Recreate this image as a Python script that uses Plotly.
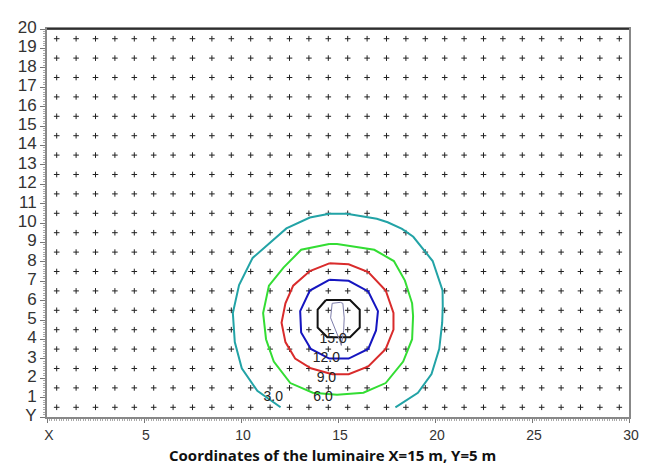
import numpy as np
import plotly.graph_objects as go

# calculation grid (points of the luminance grid)
grid_x = [0.5, 1.5, 2.5, 3.5, 4.5, 5.5, 6.5, 7.5, 8.5, 9.5, 10.5, 11.5, 12.5, 13.5, 14.5,
          15.5, 16.5, 17.5, 18.5, 19.5, 20.5, 21.5, 22.5, 23.5, 24.5, 25.5, 26.5, 27.5, 28.5, 29.5]
grid_y = [0.5, 1.5, 2.5, 3.5, 4.5, 5.5, 6.5, 7.5, 8.5, 9.5, 10.5, 11.5, 12.5, 13.5, 14.5,
          15.5, 16.5, 17.5, 18.5, 19.5]

# isolines (x, y in metres)
iso3_x = [12.04, 10.84, 10.04, 9.68, 9.58, 9.90, 10.60, 11.19, 12.34, 13.55, 14.55, 15.45,
          16.06, 17.00, 17.56, 18.30, 18.88, 19.88, 20.39, 20.40, 20.37, 20.22, 19.82, 19.12, 17.96]
iso3_y = [0.50, 1.35, 2.51, 3.86, 5.36, 6.80, 8.20, 8.72, 9.72, 10.28, 10.48, 10.48,
          10.38, 10.22, 10.04, 9.70, 9.29, 8.04, 6.53, 5.70, 4.86, 3.51, 2.21, 1.25, 0.50]

iso6_x = [14.55, 13.10, 12.19, 11.44, 11.14, 11.29, 11.69, 12.54, 13.70, 14.85, 14.95, 16.31,
          17.46, 18.36, 18.82, 18.87, 18.82, 18.45, 17.88, 16.87, 14.95, 14.55]
iso6_y = [8.92, 8.62, 7.70, 6.77, 5.36, 4.01, 2.86, 1.75, 1.25, 1.15, 1.15, 1.25,
          1.75, 2.86, 4.01, 5.21, 5.86, 7.03, 8.04, 8.62, 8.92, 8.92]

iso9_x = [14.55, 13.55, 12.69, 12.29, 12.09, 12.29, 12.79, 13.60, 14.70, 15.55, 16.56,
          17.46, 17.86, 17.86, 17.46, 16.56, 15.55, 14.95, 14.55]
iso9_y = [7.92, 7.52, 6.77, 5.86, 4.86, 3.86, 3.01, 2.51, 2.21, 2.21, 2.61,
          3.51, 4.51, 5.36, 6.52, 7.47, 7.87, 7.92, 7.92]

iso12_x = [14.55, 13.55, 13.05, 13.10, 13.60, 14.55, 14.95, 15.55, 16.56, 16.96, 17.06,
           16.56, 15.55, 14.95, 14.55]
iso12_y = [7.07, 6.52, 5.46, 4.36, 3.51, 3.01, 3.01, 3.01, 3.51, 4.46, 5.46,
           6.47, 7.02, 7.07, 7.07]

iso15_x = [14.38, 15.62, 16.12, 16.12, 15.62, 14.45, 13.95, 13.95, 14.38]
iso15_y = [6.03, 6.03, 5.53, 4.61, 4.11, 4.11, 4.61, 5.53, 6.03]

iso18_x = [14.70, 15.12, 15.25, 15.32, 15.29, 15.20, 15.17, 15.09, 14.87, 14.62, 14.70]
iso18_y = [5.86, 5.91, 5.86, 5.11, 4.45, 3.94, 3.69, 3.94, 4.45, 5.11, 5.86]

label_text = ["3.0", "6.0", "9.0", "12.0", "15.0"]
label_x = [11.66, 14.23, 14.40, 14.40, 14.75]
label_y = [1.02, 1.02, 1.99, 2.99, 4.00]

y_tick_vals = list(range(0, 21))
y_tick_text = ["Y"] + [str(v) for v in range(1, 21)]
x_tick_vals = [0, 5, 10, 15, 20, 25, 30]
x_tick_text = ["X", "5", "10", "15", "20", "25", "30"]

title_text = "Coordinates of the luminaire X=15 m, Y=5 m"

gx, gy = np.meshgrid(grid_x, grid_y)

fig = go.Figure()
fig.add_trace(go.Scatter(
    x=gx.ravel(), y=gy.ravel(), mode="markers",
    marker=dict(symbol="cross-thin", size=4, color="#222", line=dict(color="#222", width=1)),
    hoverinfo="skip", showlegend=False))

iso_specs = [
    (iso3_x, iso3_y, "#22a3a6", 2),
    (iso6_x, iso6_y, "#33dd33", 2),
    (iso9_x, iso9_y, "#d92b2b", 2),
    (iso12_x, iso12_y, "#1515c0", 2),
    (iso15_x, iso15_y, "#111111", 2),
    (iso18_x, iso18_y, "#7d7daa", 1),
]
for xs, ys, col, w in iso_specs:
    fig.add_trace(go.Scatter(x=xs, y=ys, mode="lines",
                             line=dict(color=col, width=w),
                             hoverinfo="skip", showlegend=False))

fig.add_trace(go.Scatter(x=label_x, y=label_y, mode="text", text=label_text,
                         textfont=dict(family="Liberation Sans, Arial", size=14, color="#222"),
                         hoverinfo="skip", showlegend=False))

fig.update_layout(
    width=641, height=457,
    margin=dict(l=29, r=14, t=10, b=48),
    plot_bgcolor="white", paper_bgcolor="white",
    xaxis=dict(range=[0, 30], tickvals=x_tick_vals, ticktext=x_tick_text,
               ticks="outside", ticklen=4, tickcolor="#777", tickwidth=1,
               showline=True, linecolor="#888", linewidth=2, mirror=True,
               showgrid=False, zeroline=False,
               ticklabelstandoff=0, ticklabelshift=2,
               tickfont=dict(family="Liberation Sans, Arial", size=14, color="#333"),
               minor=dict(dtick=0.125, ticks="outside", ticklen=2, tickcolor="#aaa", tickwidth=1, showgrid=False)),
    yaxis=dict(range=[0, 20], tickvals=y_tick_vals, ticktext=y_tick_text,
               ticks="outside", ticklen=5, tickcolor="#777", tickwidth=1,
               showline=True, linecolor="#888", linewidth=2, mirror=True,
               showgrid=False, zeroline=False,
               ticklabelshift=-2,
               tickfont=dict(family="Liberation Sans, Arial", size=17, color="#333"),
               minor=dict(dtick=0.125, ticks="outside", ticklen=2, tickcolor="#aaa", tickwidth=1, showgrid=False)),
    shapes=[dict(type="line", xref="paper", yref="paper", x0=0, x1=1, y0=1, y1=1,
                 line=dict(color="#111", width=1.5))],
    annotations=[dict(text="<b>" + title_text + "</b>", xref="paper", yref="paper",
                      x=0.49, y=0, xanchor="center", yanchor="middle", yshift=-38,
                      showarrow=False,
                      font=dict(family="Open Sans", size=15, color="#111"))],
)
fig.write_html("out.html")
